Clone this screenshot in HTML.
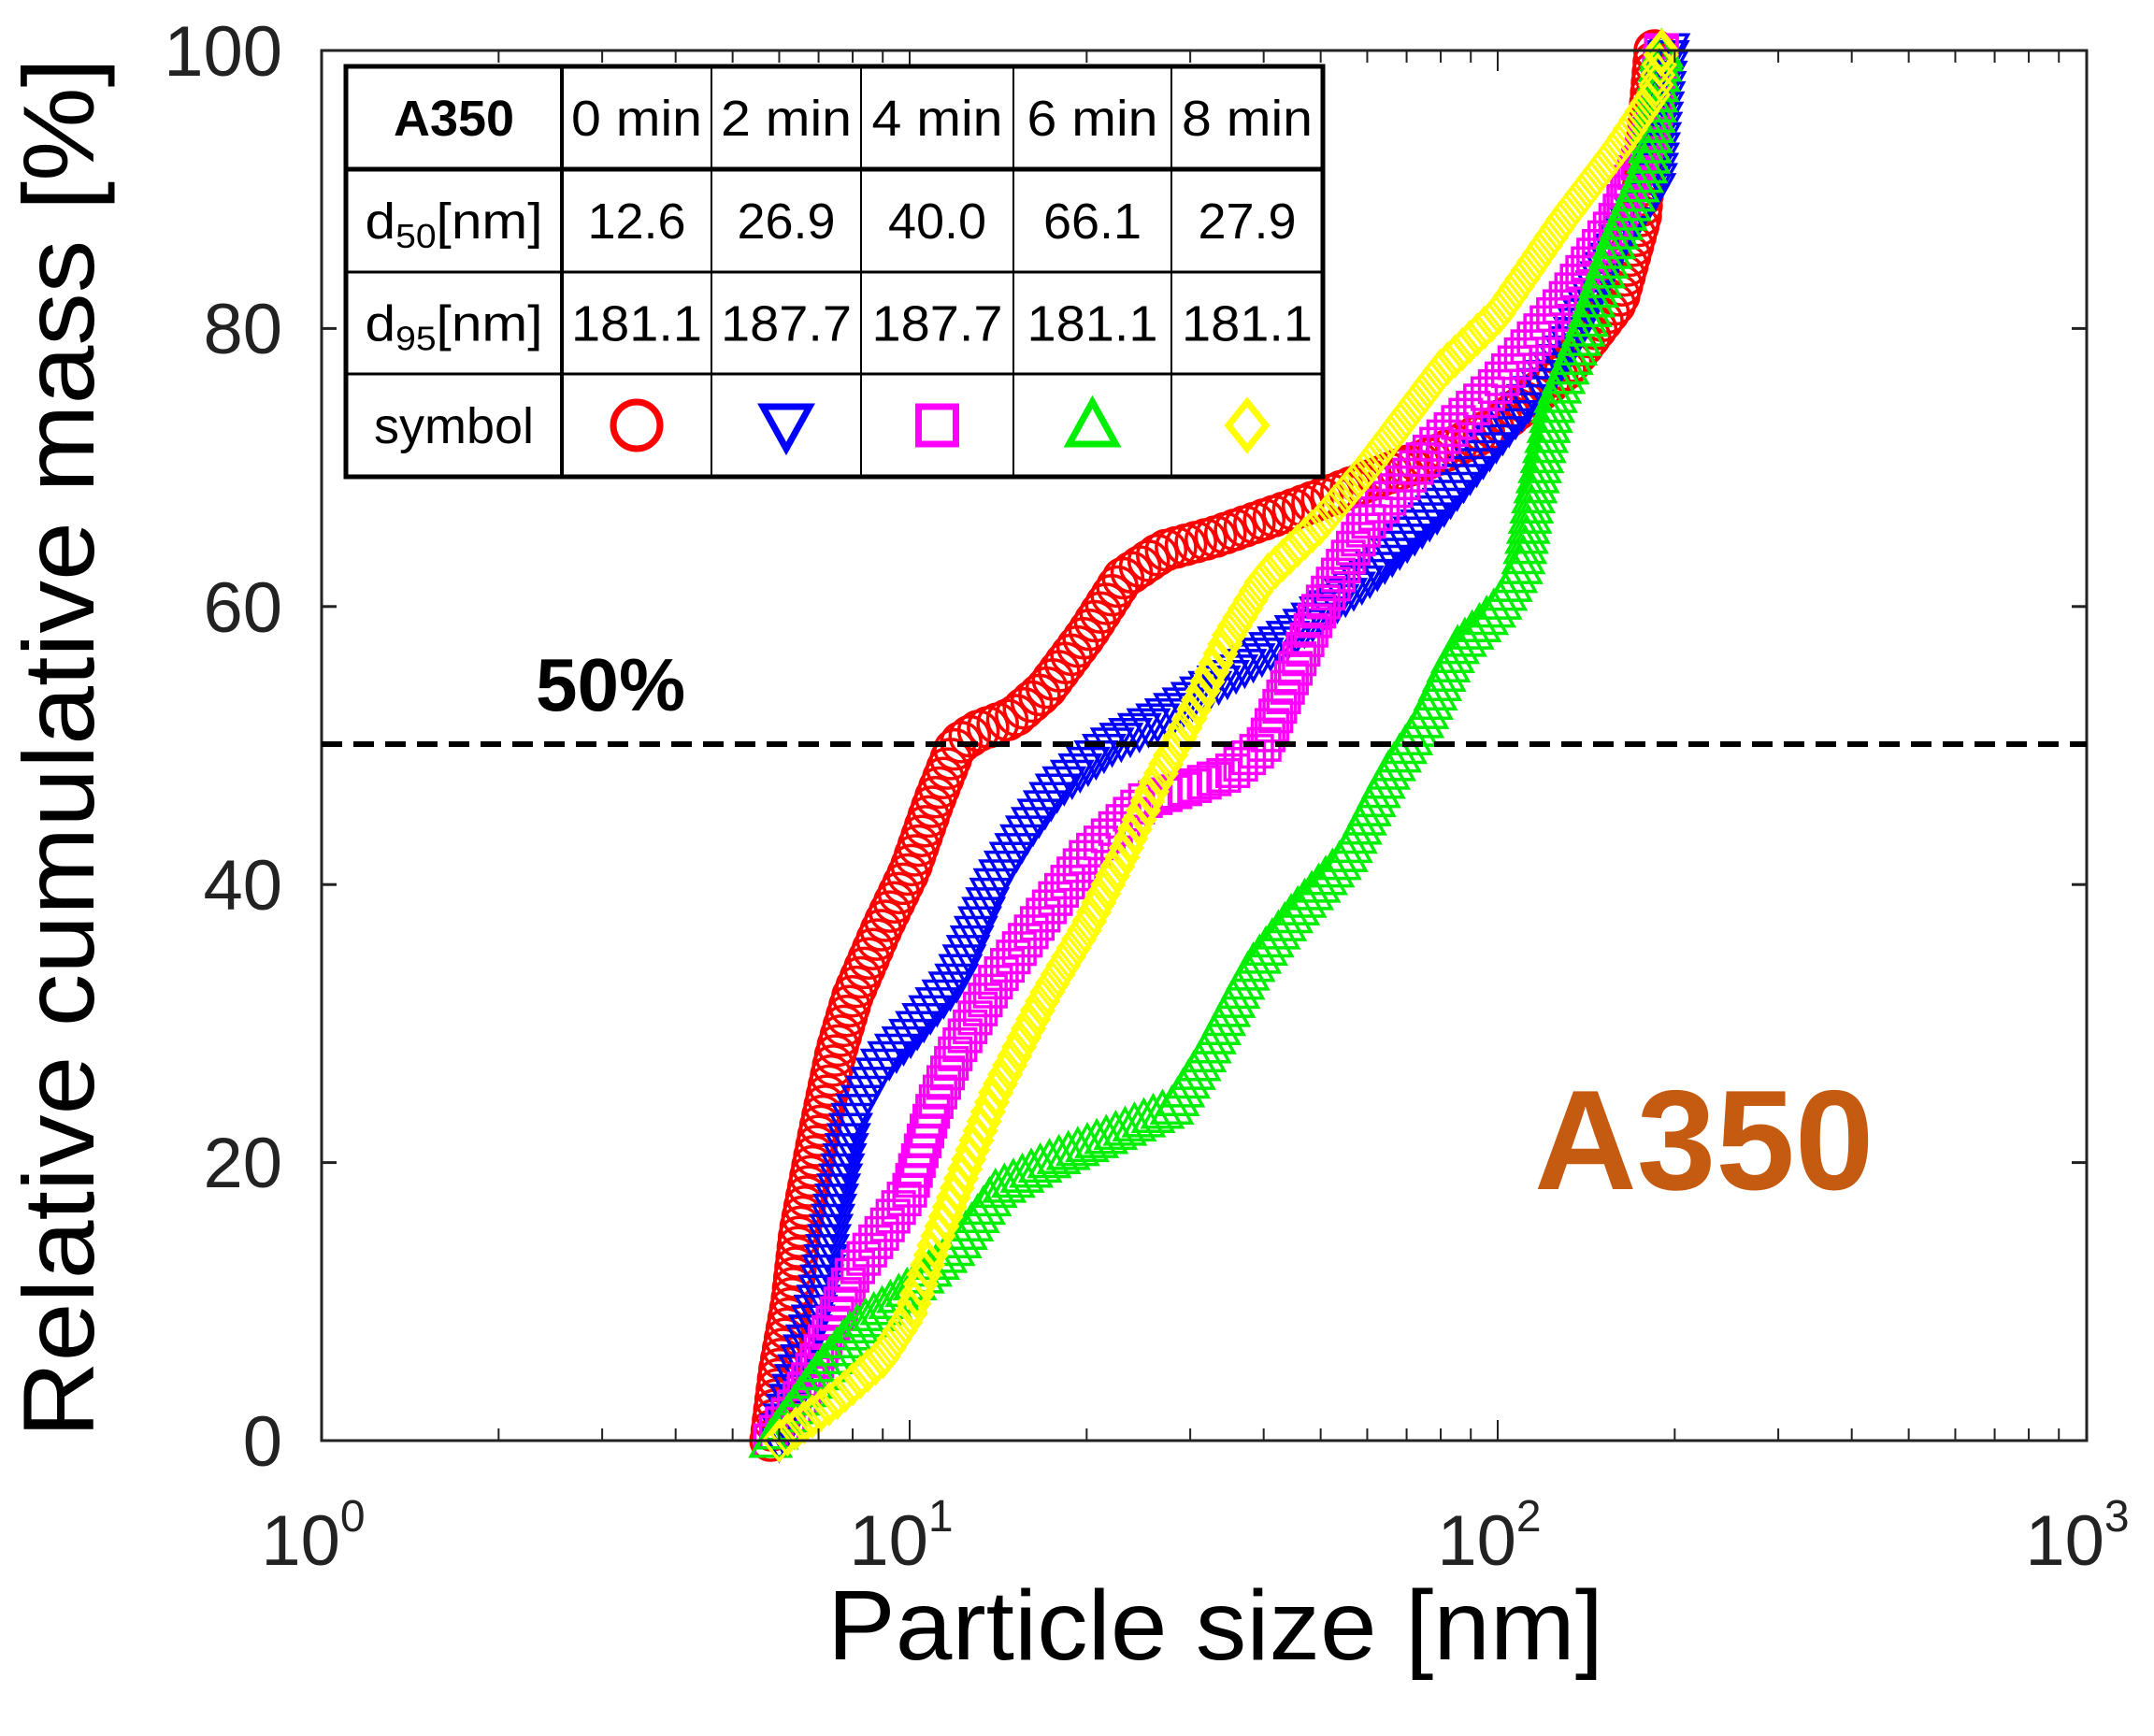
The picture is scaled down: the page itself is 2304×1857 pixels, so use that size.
<!DOCTYPE html>
<html><head><meta charset="utf-8"><style>
html,body{margin:0;padding:0;background:#fff;}
svg{display:block;font-family:"Liberation Sans",sans-serif;}
</style></head><body>
<svg id="s" width="2304" height="1857" viewBox="0 0 2304 1857" xmlns="http://www.w3.org/2000/svg">
<rect width="2304" height="1857" fill="#fff"/>
<g id="data"></g>
<g id="axes" stroke="#222" stroke-width="3" fill="none"></g>
<line x1="344" y1="796" x2="2232" y2="796" stroke="#000" stroke-width="6" stroke-dasharray="22,12"/>
<text x="573" y="760" font-size="80" font-weight="bold">50%</text>
<text x="1641" y="1272" font-size="152" font-weight="bold" fill="#c55a11">A350</text>
<g font-size="76" fill="#222" text-anchor="end">
<text x="302" y="81">100</text><text x="302" y="378">80</text><text x="302" y="676">60</text>
<text x="302" y="973">40</text><text x="302" y="1270">20</text><text x="302" y="1568">0</text>
</g>
<g font-size="76" fill="#222" text-anchor="middle">
<text x="335" y="1674">10<tspan font-size="48" dy="-36">0</tspan></text>
<text x="964" y="1674">10<tspan font-size="48" dy="-36">1</tspan></text>
<text x="1593" y="1674">10<tspan font-size="48" dy="-36">2</tspan></text>
<text x="2222" y="1674">10<tspan font-size="48" dy="-36">3</tspan></text>
</g>
<text x="1300" y="1775" font-size="106" text-anchor="middle" textLength="830" lengthAdjust="spacingAndGlyphs">Particle size [nm]</text>
<text transform="translate(100,800) rotate(-90)" font-size="108" text-anchor="middle" textLength="1476" lengthAdjust="spacingAndGlyphs">Relative cumulative mass [%]</text>
<g id="table"></g>
</svg>
<script>
const NS="http://www.w3.org/2000/svg";
function el(p,t,a,txt){const e=document.createElementNS(NS,t);for(const k in a)e.setAttribute(k,a[k]);if(txt!==undefined)e.textContent=txt;p.appendChild(e);return e;}
const L=344,R=2232,T=54,B=1541,D=629;
const X=v=>L+D*Math.log10(v), Y=p=>B-(B-T)*p/100;
const ax=document.getElementById('axes');
el(ax,'rect',{x:L,y:T,width:R-L,height:B-T});
for(let d=0;d<3;d++)for(let k=1;k<=9;k++){const x=X(k*Math.pow(10,d));const len=k==1?22:13;
 el(ax,'line',{x1:x,y1:B,x2:x,y2:B-len,'stroke-width':2});el(ax,'line',{x1:x,y1:T,x2:x,y2:T+len,'stroke-width':2});}
for(let p=0;p<=100;p+=20){el(ax,'line',{x1:L,y1:Y(p),x2:L+16,y2:Y(p)});el(ax,'line',{x1:R,y1:Y(p),x2:R-16,y2:Y(p)});}
const S={
red:[[5.8,0],[6,5],[6.3,10],[6.5,15],[7,22],[7.5,28],[8,32],[9,37],[10,41],[11,46],[12,50],[13,51],[15,52],[17,54],[20,58],[23,62],[27,64],[33,65],[45,67],[60,69],[80,71],[100,73],[130,77],[160,82],[175,88],[185,100]],
blue:[[6,0],[6.5,5],[7,10],[7.5,17],[8,23],[9,27],[10,29],[12,33],[14,40],[16,44],[18,47],[22,50],[27,52],[35,55],[45,58],[60,62],[80,67],[100,72],[130,78],[160,86],[185,90],[190,95],[195,100]],
magenta:[[5.8,0],[6.5,3],[7,6],[7.5,9],[8,12],[9,15],[10,18],[11,24],[12,28],[14,33],[17,38],[20,42],[25,46],[30,47],[35,48],[40,50],[50,60],[60,66],[80,72],[100,76],[130,82],[160,88],[185,95],[190,100]],
lime:[[5.8,0],[7,5],[8,8],[10,11],[12,14],[14,18],[17,20],[22,22],[28,24],[32,28],[38,34],[45,38],[55,42],[65,48],[75,52],[85,57],[100,60],[110,63],[115,68],[125,75],[140,80],[160,87],[180,92],[190,100]],
yellow:[[6,0],[7.5,3],[9,6],[10,9],[11,14],[12,18],[14,25],[17,32],[20,37],[23,42],[26,47],[30,52],[35,58],[40,62],[50,66],[60,70],[80,77],[100,81],[130,88],[160,93],[185,97],[190,100]]};
const col={red:'#ff0000',blue:'#0000ff',magenta:'#ff00ff',lime:'#00ee00',yellow:'#ffff00'};
function marker(g,k,x,y,r,sw){const c=col[k],a={fill:'none',stroke:c,'stroke-width':sw||4};
 if(k=='red')el(g,'circle',Object.assign({cx:x,cy:y,r:r},a));
 else if(k=='blue')el(g,'polygon',Object.assign({points:`${x-r},${y-r*0.8} ${x+r},${y-r*0.8} ${x},${y+r}`},a));
 else if(k=='magenta')el(g,'rect',Object.assign({x:x-r*0.8,y:y-r*0.8,width:r*1.6,height:r*1.6},a));
 else if(k=='lime')el(g,'polygon',Object.assign({points:`${x-r},${y+r*0.8} ${x+r},${y+r*0.8} ${x},${y-r}`},a));
 else el(g,'polygon',Object.assign({points:`${x},${y-r} ${x+r*0.8},${y} ${x},${y+r} ${x-r*0.8},${y}`},a));}
const dg=document.getElementById('data');
for(const k of ['red','blue','magenta','lime','yellow']){
 const pts=S[k].map(p=>[X(p[0]),Y(p[1])]);
 let carry=0;const step=11;
 for(let i=0;i<pts.length-1;i++){const [x1,y1]=pts[i],[x2,y2]=pts[i+1];const len=Math.hypot(x2-x1,y2-y1);
  let s=carry;while(s<len){const t=s/len;marker(dg,k,x1+(x2-x1)*t,y1+(y2-y1)*t,21,3.5);s+=step;}
  carry=s-len;}
 const l=pts[pts.length-1];marker(dg,k,l[0],l[1],21,3.5);}
// table
const tb=document.getElementById('table');
const tx=[370,601,761,921,1084,1253,1415],ty=[71,181,291,400,510];
el(tb,'rect',{x:370,y:71,width:1045,height:439,fill:'#fff',stroke:'#000','stroke-width':5});
for(let i=1;i<6;i++)el(tb,'line',{x1:tx[i],y1:71,x2:tx[i],y2:510,stroke:'#000','stroke-width':i==1?4:2});
for(let j=1;j<4;j++)el(tb,'line',{x1:370,y1:ty[j],x2:1415,y2:ty[j],stroke:'#000','stroke-width':j==1?5:3});
const cx=i=>(tx[i]+tx[i+1])/2, cy=j=>(ty[j]+ty[j+1])/2+19;
const tg=el(tb,'g',{'font-size':54,'text-anchor':'middle',fill:'#000'});
el(tg,'text',{x:cx(0),y:cy(0),'font-weight':'bold'},'A350');
['0 min','2 min','4 min','6 min','8 min'].forEach((s,i)=>el(tg,'text',{x:cx(i+1),y:cy(0),textLength:140,lengthAdjust:'spacingAndGlyphs'},s));
['12.6','26.9','40.0','66.1','27.9'].forEach((s,i)=>el(tg,'text',{x:cx(i+1),y:cy(1)},s));
['181.1','187.7','187.7','181.1','181.1'].forEach((s,i)=>el(tg,'text',{x:cx(i+1),y:cy(2),textLength:140,lengthAdjust:'spacingAndGlyphs'},s));
for(const [j,sub] of [[1,'50'],[2,'95']]){const t=el(tg,'text',{x:cx(0),y:cy(j),textLength:190,lengthAdjust:'spacingAndGlyphs'});
 el(t,'tspan',{},'d');el(t,'tspan',{'font-size':36,dy:10},sub);el(t,'tspan',{dy:-10},'[nm]');}
el(tg,'text',{x:cx(0),y:cy(3)},'symbol');
const ks=['red','blue','magenta','lime','yellow'];
ks.forEach((k,i)=>{const g=el(tb,'g',{});const x=cx(i+1),y=(ty[3]+ty[4])/2;marker(g,k,x,y,25,7);});
</script>
</body></html>
